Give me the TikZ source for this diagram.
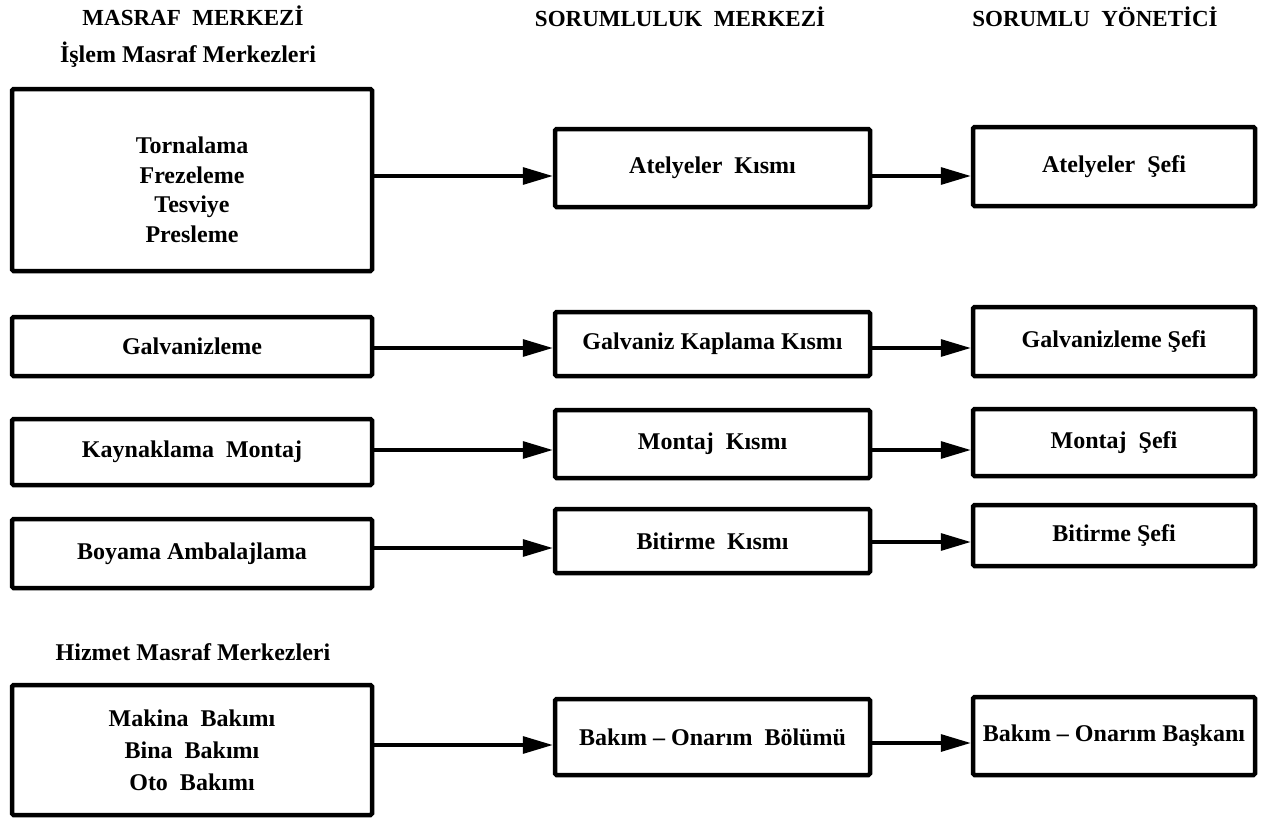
\documentclass[tikz,border=0pt]{standalone}
\usepackage{fontspec}
\setmainfont{Liberation Serif}
\usetikzlibrary{arrows.meta}
\begin{document}
\begin{tikzpicture}[x=1pt,y=-1pt,
  box/.style={draw=black, line width=4.5pt, rounded corners=1.5pt, fill=white,
    inner sep=0pt, align=center, font=\fontsize{24}{32}\selectfont\bfseries},
  colA/.style={box, minimum width=360pt},
  colB/.style={box, minimum width=315pt},
  colC/.style={box, minimum width=282pt},
  body/.style={align=center, inner sep=0pt, font=\fontsize{24}{29.5}\selectfont\bfseries},
  head/.style={font=\fontsize{23}{26}\selectfont\bfseries},
  sub/.style={font=\fontsize{24}{28}\selectfont\bfseries},
  link/.style={line width=3.2pt, -{Triangle[length=30pt,width=17pt]}}]
\path[use as bounding box] (0,0) rectangle (1270,822);

% column headings
\node[head] (h1) at (193,16) {MASRAF\ \ MERKEZİ};
\node[sub]  (h1b) at (188,55) {İşlem Masraf Merkezleri};
\node[head] (h2) at (680,17) {SORUMLULUK\ \ MERKEZİ};
\node[head] (h3) at (1095,17) {SORUMLU\ \ YÖNETİCİ};
\node[sub]  (h4) at (193,652) {Hizmet Masraf Merkezleri};

% cost centres
\node[colA, minimum height=182pt] (a1) at (192,180) {};
\node[body] (a1t) at (192,190) {Tornalama\\Frezeleme\\Tesviye\\Presleme};
\node[colA, minimum height=59pt] (a2) at (192,346.5) {Galvanizleme};
\node[colA, minimum height=66pt] (a3) at (192,452) {Kaynaklama\ \ Montaj};
\node[colA, minimum height=69pt] (a4) at (192,553.5) {Boyama Ambalajlama};
\node[colA, minimum height=130pt] (a5) at (192,750)
  {Makina\ \ Bakımı\\Bina\ \ Bakımı\\Oto\ \ Bakımı};

% responsibility centres
\node[colB, minimum height=78pt] (b1) at (712.5,168) {Atelyeler\ \ Kısmı};
\node[colB, minimum height=64pt] (b2) at (712.5,344) {Galvaniz Kaplama Kısmı};
\node[colB, minimum height=68pt] (b3) at (712.5,444) {Montaj\ \ Kısmı};
\node[colB, minimum height=64pt] (b4) at (712.5,541) {Bitirme\ \ Kısmı};
\node[colB, minimum height=76pt] (b5) at (712.5,737) {Bakım -- Onarım\ \ Bölümü};

% responsible managers
\node[colC, minimum height=79pt] (c1) at (1114,166.5) {Atelyeler\ \ Şefi};
\node[colC, minimum height=69pt] (c2) at (1114,341.5) {Galvanizleme Şefi};
\node[colC, minimum height=67pt] (c3) at (1114,442.5) {Montaj\ \ Şefi};
\node[colC, minimum height=61pt] (c4) at (1114,535.5) {Bitirme Şefi};
\node[colC, minimum height=78pt] (c5) at (1114,736) {Bakım -- Onarım Başkanı};

% connector levels
\coordinate (r1) at (0,176);
\coordinate (r2) at (0,348);
\coordinate (r3) at (0,450);
\coordinate (r4a) at (0,548);
\coordinate (r4b) at (0,542);
\coordinate (r5a) at (0,745);
\coordinate (r5b) at (0,743);

% connectors
\draw[link] (a1.east |- r1) -- (b1.west |- r1);
\draw[link] (a2.east |- r2) -- (b2.west |- r2);
\draw[link] (a3.east |- r3) -- (b3.west |- r3);
\draw[link] (a4.east |- r4a) -- (b4.west |- r4a);
\draw[link] (a5.east |- r5a) -- (b5.west |- r5a);

\draw[link] (b1.east |- r1) -- (c1.west |- r1);
\draw[link] (b2.east |- r2) -- (c2.west |- r2);
\draw[link] (b3.east |- r3) -- (c3.west |- r3);
\draw[link] (b4.east |- r4b) -- (c4.west |- r4b);
\draw[link] (b5.east |- r5b) -- (c5.west |- r5b);
\end{tikzpicture}
\end{document}
